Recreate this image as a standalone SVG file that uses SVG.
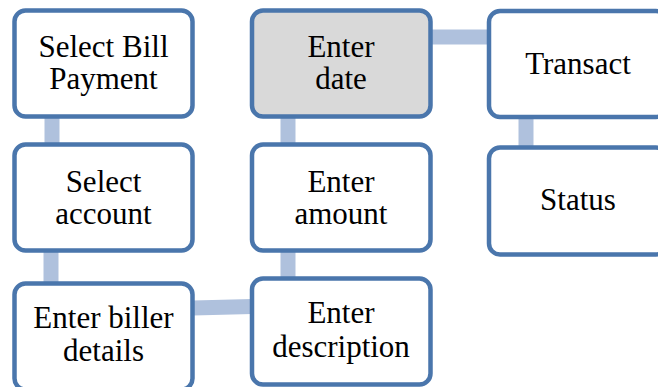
<svg xmlns="http://www.w3.org/2000/svg" width="658" height="387" viewBox="0 0 658 387">
<style>
.box{fill:#fff;stroke:#4A76AC;stroke-width:4.5}
.hl{fill:#D9D9D9}
.c{stroke:#AFC1DD;stroke-width:15;fill:none}
text{font-family:"Liberation Serif","Times New Roman",serif;font-size:31px;fill:#000;text-anchor:middle}
</style>
<rect width="658" height="387" fill="#fff"/>
<g id="connectors">
<line class="c" x1="52" y1="117" x2="52" y2="145"/>
<line class="c" x1="51" y1="251" x2="51" y2="284"/>
<line class="c" x1="193" y1="308" x2="252" y2="306.5"/>
<line class="c" x1="288" y1="251" x2="288" y2="279"/>
<line class="c" x1="288" y1="117" x2="288" y2="145"/>
<line class="c" x1="430" y1="37" x2="490" y2="37"/>
<line class="c" x1="526" y1="117" x2="526" y2="148"/>
</g>
<g id="n1"><rect class="box" x="14.5" y="10.5" width="178" height="106" rx="11"/>
<text x="103.5" y="57">Select Bill</text><text x="103.5" y="89">Payment</text></g>
<g id="n2"><rect class="box" x="14.5" y="144.5" width="178" height="106" rx="11"/>
<text x="103.5" y="192">Select</text><text x="103.5" y="224">account</text></g>
<g id="n3"><rect class="box" x="14.5" y="283.5" width="178" height="106" rx="11"/>
<text x="103.5" y="328">Enter biller</text><text x="103.5" y="361">details</text></g>
<g id="n4"><rect class="box" x="252" y="278.5" width="178.5" height="106" rx="11"/>
<text x="341" y="323">Enter</text><text x="341" y="357">description</text></g>
<g id="n5"><rect class="box" x="252" y="144.5" width="178.5" height="106" rx="11"/>
<text x="341" y="192">Enter</text><text x="341" y="224">amount</text></g>
<g id="n6"><rect class="box hl" x="252" y="10.5" width="178.5" height="106" rx="11"/>
<text x="341" y="57">Enter</text><text x="341" y="89">date</text></g>
<g id="n7"><rect class="box" x="489" y="11" width="178" height="106" rx="11"/>
<text x="578" y="74">Transact</text></g>
<g id="n8"><rect class="box" x="489" y="147.5" width="178" height="107" rx="11"/>
<text x="578" y="210">Status</text></g>
</svg>
